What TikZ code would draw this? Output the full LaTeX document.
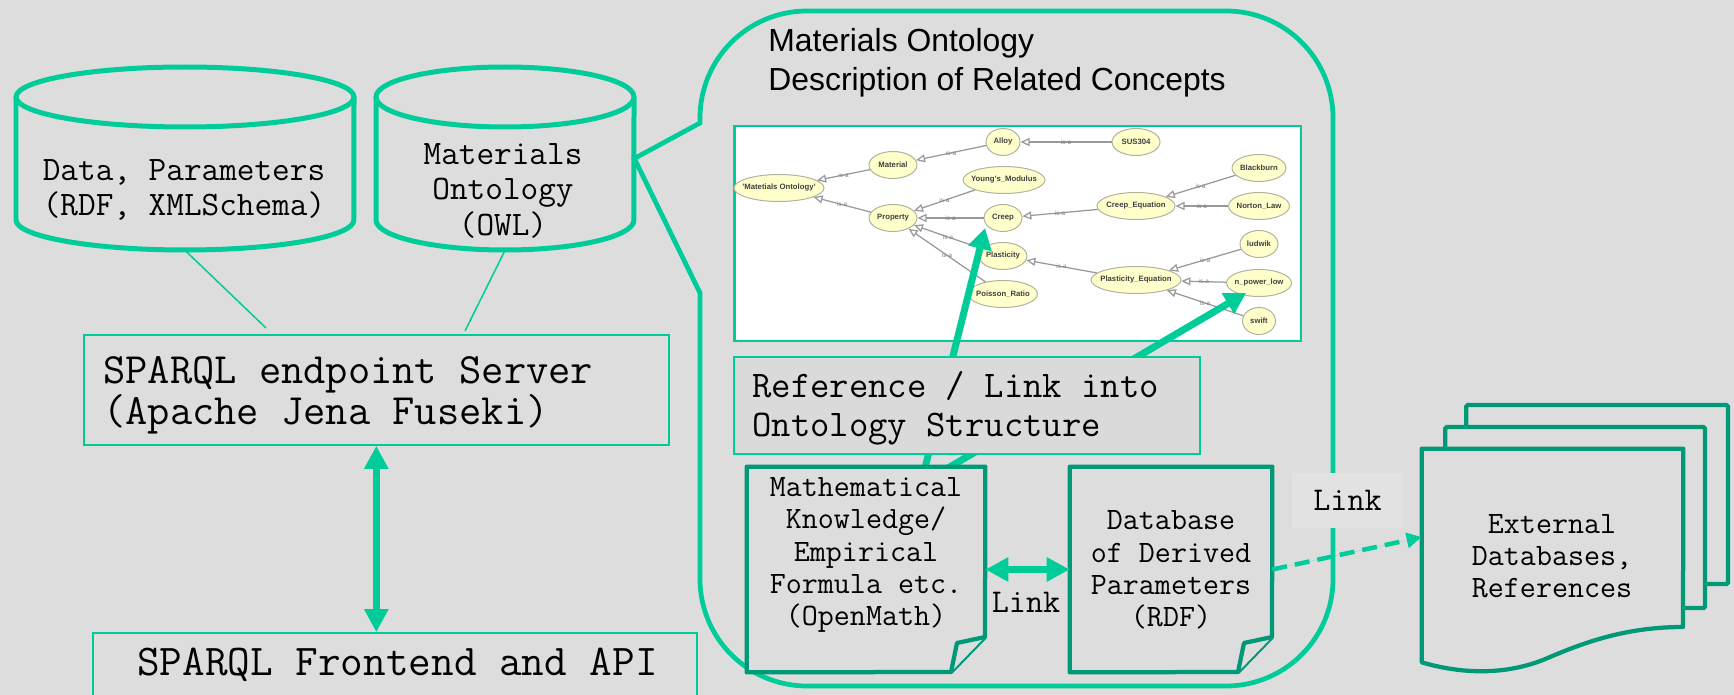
\documentclass[tikz,border=0pt]{standalone}
\usepackage{fontspec}
\setmainfont{Liberation Sans}
\usepackage{xcolor}
\definecolor{lightgreen}{RGB}{0,204,153}
\definecolor{darkgreen}{RGB}{0,153,119}
\definecolor{bggray}{RGB}{221,221,221}
\definecolor{refgray}{RGB}{218,218,218}
\definecolor{linkgray}{RGB}{226,226,226}
\definecolor{cream}{RGB}{255,255,204}
\usetikzlibrary{arrows.meta}
\usetikzlibrary{shapes.geometric}
\tikzset{
  dbbox/.style={rectangle,inner sep=0pt,minimum height=3.66cm},
  dbline/.style={draw=lightgreen,line width=.1cm},
  dbtext/.style={align=center,font=\ttfamily\fontsize{19.5}{20.2}\selectfont},
  thinbox/.style={rectangle,draw=lightgreen,line width=.035cm},
  doctext/.style={align=center,font=\ttfamily\fontsize{17.7}{18.3}\selectfont},
  docbox/.style={rectangle,inner sep=0pt,minimum width=4.76cm,minimum height=4.1cm},
  docline/.style={draw=darkgreen,line width=.085cm,line join=round,fill=bggray},
  stackbox/.style={rectangle,draw=darkgreen,line width=.085cm,fill=bggray,rounded corners=.03cm,anchor=north west,inner sep=0pt},
  onto/.style={ellipse,draw=gray!60!cream,fill=cream,line width=.02cm,inner sep=-3pt,minimum height=.54cm,font=\fontsize{4.4}{5}\selectfont\bfseries,text=black!75},
  isa/.style={draw=gray!80,line width=.025cm,-{Triangle[open,length=.18cm,width=.16cm]}},
  isatext/.style={midway,inner sep=0pt,font=\fontsize{3.6}{4}\selectfont,text=gray},
  bigarrow/.style={draw=lightgreen,fill=lightgreen,line width=.14cm,-{Triangle[length=.42cm,width=.46cm]}},
  botharrow/.style={draw=lightgreen,fill=lightgreen,line width=.14cm,{Triangle[length=.46cm,width=.46cm]}-{Triangle[length=.46cm,width=.46cm]}}
}
\begin{document}
\begin{tikzpicture}[x=.02cm,y=-.02cm]
\useasboundingbox (0,0) rectangle (1734,695);
\fill[bggray] (0,0) rectangle (1734,695);

\node[dbbox,minimum width=6.76cm] (data) at (185,158.5) {};
\draw[dbline] (185,97) ellipse [x radius=3.38cm,y radius=.6cm];
\draw[dbline] (16,97) -- (16,220) arc [start angle=180,end angle=360,x radius=3.38cm,y radius=.6cm] -- (354,97);
\node[dbbox,minimum width=5.16cm] (owl) at (505,158.5) {};
\draw[dbline] (505,97) ellipse [x radius=2.58cm,y radius=.6cm];
\draw[dbline] (376,97) -- (376,220) arc [start angle=180,end angle=360,x radius=2.58cm,y radius=.6cm] -- (634,97);
\node[dbtext] (datatext) at (184,190) {Data, Parameters\\(RDF, XMLSchema)};
\node[dbtext] (owltext) at (503,190.5) {Materials\\Ontology\\(OWL)};

\node[thinbox,anchor=west,minimum width=11.7cm,minimum height=2.2cm] (sparql) at (83,390) {};
\node[anchor=west,inner sep=0pt,align=left,font=\ttfamily\fontsize{24.6}{23.6}\selectfont] (sparqltext) at (103,395.5) {SPARQL endpoint Server\\(Apache Jena Fuseki)};
\node[thinbox,minimum width=12.09cm,minimum height=1.36cm] (front) at (395,667) {};
\node[inner sep=0pt,font=\ttfamily\fontsize{25}{22.8}\selectfont] (fronttext) at (397.5,665) {SPARQL Frontend and API};

\coordinate (dataend) at (266,328);
\coordinate (owlend) at (465,331);
\draw[draw=lightgreen,line width=.03cm] (data.south) -- (dataend);
\draw[draw=lightgreen,line width=.03cm] (owl.south) -- (owlend);
\draw[botharrow] (sparql.south) -- (sparql.south |- front.north);

\draw[draw=lightgreen,line width=.095cm,line join=miter] (owl.east) -- (700,123) {[rounded corners=2.14cm] -- (700,11) -- (1333,11) -- (1333,686) -- (700,686) -- (700,450)} -- (700,293) -- cycle;

\node[anchor=north west,align=left,inner sep=0pt,font=\fontsize{18.15}{22.1}\selectfont] (title) at (768,28) {Materials Ontology\\Description of Related Concepts};

\node[rectangle,draw=lightgreen,line width=.05cm,fill=white,anchor=north west,minimum width=11.34cm,minimum height=4.3cm] (shot) at (733,125) {};

\node[onto,minimum width=1.8cm] (mo) at (779,188) {'Matetials Ontology'};
\node[onto,minimum width=.96cm] (material) at (893,165) {Material};
\node[onto,minimum width=.68cm] (alloy) at (1003,142) {Alloy};
\node[onto,minimum width=.96cm] (sus) at (1136,142) {SUS304};
\node[onto,minimum width=1.64cm] (young) at (1004,180) {Young's\_Modulus};
\node[onto,minimum width=.96cm] (property) at (893,218) {Property};
\node[onto,minimum width=.76cm] (creep) at (1003,218) {Creep};
\node[onto,minimum width=1.56cm] (creepeq) at (1136,206) {Creep\_Equation};
\node[onto,minimum width=1.08cm] (black) at (1259,168) {Blackburn};
\node[onto,minimum width=1.22cm] (norton) at (1259,206) {Norton\_Law};
\node[onto,minimum width=.96cm] (plast) at (1003,256) {Plasticity};
\node[onto,minimum width=1.8cm] (plasteq) at (1136,280) {Plasticity\_Equation};
\node[onto,minimum width=.76cm] (ludwik) at (1259,244) {ludwik};
\node[onto,minimum width=1.3cm] (npower) at (1259,283) {n\_power\_low};
\node[onto,minimum width=.66cm] (swift) at (1259,321) {swift};
\node[onto,minimum width=1.38cm] (poisson) at (1003,294) {Poisson\_Ratio};

\draw[isa] (material) -- node[isatext] (e1) {is-a} (mo);
\draw[isa] (property) -- node[isatext] (e2) {is-a} (mo);
\draw[isa] (alloy) -- node[isatext] (e3) {is-a} (material);
\draw[isa] (sus) -- node[isatext] (e4) {is-a} (alloy);
\draw[isa] (young) -- node[isatext] (e5) {is-a} (property);
\draw[isa] (creep) -- node[isatext] (e6) {is-a} (property);
\draw[isa] (plast) -- node[isatext] (e7) {is-a} (property);
\draw[isa] (poisson) -- node[isatext] (e8) {is-a} (property);
\draw[isa] (creepeq) -- node[isatext] (e9) {is-a} (creep);
\draw[isa] (black) -- node[isatext] (e10) {is-a} (creepeq);
\draw[isa] (norton) -- node[isatext] (e11) {is-a} (creepeq);
\draw[isa] (plasteq) -- node[isatext] (e12) {is-a} (plast);
\draw[isa] (ludwik) -- node[isatext] (e13) {is-a} (plasteq);
\draw[isa] (npower) -- node[isatext] (e14) {is-a} (plasteq);
\draw[isa] (swift) -- node[isatext] (e15) {is-a} (plasteq);

\coordinate (starta) at (925,468);
\coordinate (startb) at (948,468);
\draw[bigarrow] (starta) -- (985,228);
\draw[bigarrow] (startb) -- (1246,293);

\node[thinbox,fill=refgray,anchor=west,minimum width=9.32cm,minimum height=1.94cm] (ref) at (733,405.5) {};
\node[anchor=west,inner sep=0pt,align=left,font=\ttfamily\fontsize{21.4}{22.2}\selectfont] (reftext) at (752,408) {Reference / Link into\\Ontology Structure};

\node[docbox] (math) at (866,569.5) {};
\node[docbox,minimum width=4.04cm] (deriv) at (1171,569.5) {};
\draw[docline] (math.north west) -- (math.north east) -- (985,637) -- (951,672) -- (math.south west) -- cycle;
\draw[docline] (985,637) -- (957,643) -- (951,672);
\draw[docline] (deriv.north west) -- (deriv.north east) -- (1272,637) -- (1238,672) -- (deriv.south west) -- cycle;
\draw[docline] (1272,637) -- (1244,643) -- (1238,672);
\node[doctext] (mathtext) at (866,555) {Mathematical\\Knowledge/\\Empirical\\Formula etc.\\(OpenMath)};
\node[doctext] (derivtext) at (1171,570) {Database\\of Derived\\Parameters\\(RDF)};

\draw[botharrow,line width=.13cm] (math.east) -- (deriv.west);
\node[dbtext,font=\ttfamily\fontsize{18.9}{19.9}\selectfont] (linka) at (1026,602) {Link};

\node[rectangle,fill=linkgray,minimum width=2.22cm,minimum height=1.1cm,dbtext,font=\ttfamily\fontsize{18.9}{19.9}\selectfont] (linkb) at (1347.5,500.5) {Link};

\node[stackbox,minimum width=5.24cm,minimum height=3.58cm] (back) at (1464,403) {};
\node[stackbox,minimum width=5.2cm,minimum height=3.62cm] (mid) at (1443,425) {};
\node[docbox,minimum width=5.22cm,minimum height=4.26cm] (ext) at (1552.5,555.5) {};
\draw[docline,line join=round] (ext.south west) -- (ext.north west) -- (ext.north east) -- (1683,627) .. controls (1630,627) and (1590,640) .. (1550,657) .. controls (1510,675) and (1465,675) .. (ext.south west) -- cycle;
\node[doctext] (exttext) at (1552,556) {External\\Databases,\\References};

\draw[draw=lightgreen,fill=lightgreen,line width=.09cm,dash pattern=on .3cm off .16cm,-{Triangle[length=.3cm,width=.3cm]}] (deriv.east) -- (ext.172);

\end{tikzpicture}
\end{document}
